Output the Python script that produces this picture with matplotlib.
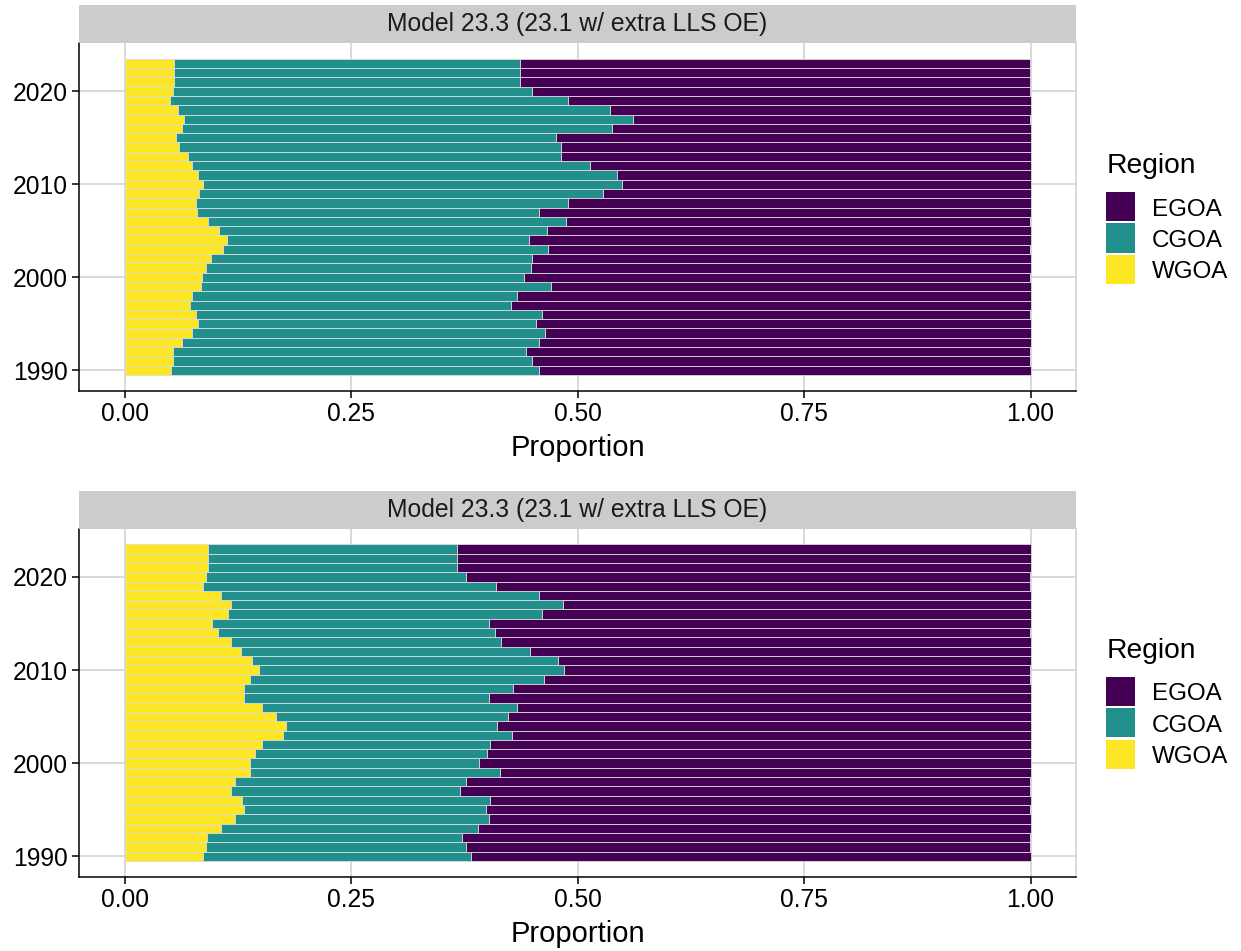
import numpy as np
import matplotlib
matplotlib.use("Agg")
import matplotlib.pyplot as plt
from matplotlib.patches import Rectangle

plt.rcParams['font.family'] = ['Liberation Sans', 'DejaVu Sans']

years = list(range(1990, 2024))
regions = ['EGOA', 'CGOA', 'WGOA']
colors = {'EGOA': '#440154', 'CGOA': '#21908C', 'WGOA': '#FDE725'}
strip_label = 'Model 23.3 (23.1 w/ extra LLS OE)'

# proportions, 1990 -> 2023 (EGOA is the remainder)
wgoa_top = [0.051, 0.053, 0.054, 0.063, 0.074, 0.081, 0.079, 0.072, 0.075, 0.084,
            0.086, 0.090, 0.095, 0.109, 0.113, 0.104, 0.092, 0.080, 0.079, 0.082,
            0.087, 0.081, 0.075, 0.070, 0.060, 0.057, 0.064, 0.066, 0.059, 0.050,
            0.053, 0.055, 0.055, 0.055]
cgoa_top = [0.406, 0.397, 0.389, 0.394, 0.390, 0.373, 0.382, 0.355, 0.358, 0.387,
            0.355, 0.359, 0.355, 0.358, 0.333, 0.362, 0.395, 0.378, 0.411, 0.446,
            0.462, 0.463, 0.439, 0.412, 0.422, 0.419, 0.474, 0.495, 0.477, 0.440,
            0.397, 0.381, 0.381, 0.381]

wgoa_bot = [0.087, 0.090, 0.091, 0.106, 0.122, 0.132, 0.130, 0.118, 0.122, 0.139,
            0.139, 0.144, 0.152, 0.175, 0.178, 0.167, 0.152, 0.132, 0.132, 0.139,
            0.149, 0.141, 0.129, 0.118, 0.103, 0.097, 0.114, 0.118, 0.106, 0.087,
            0.090, 0.092, 0.092, 0.092]
cgoa_bot = [0.296, 0.287, 0.282, 0.284, 0.280, 0.267, 0.273, 0.252, 0.255, 0.276,
            0.252, 0.256, 0.251, 0.253, 0.233, 0.256, 0.281, 0.270, 0.297, 0.324,
            0.336, 0.337, 0.319, 0.298, 0.306, 0.305, 0.347, 0.366, 0.351, 0.323,
            0.287, 0.275, 0.275, 0.275]

xticks = [0, 0.25, 0.5, 0.75, 1.0]
xticklabels = ['0.00', '0.25', '0.50', '0.75', '1.00']
yticks = [1990, 2000, 2010, 2020]

W, H = 1241, 951
fig = plt.figure(figsize=(W / 100, H / 100), dpi=100)


def fx(px):
    return px / W


def fy(py):
    return 1 - py / H


def panel(top_px, bottom_px, strip_top_px, wg, cg):
    ax = fig.add_axes([fx(79.2), fy(bottom_px), fx(1075.8) - fx(79.2),
                       fy(top_px) - fy(bottom_px)])
    wg = np.array(wg)
    cg = np.array(cg)
    eg = 1 - wg - cg
    ec = '#DCDCDC'
    ax.barh(years, wg, height=1, color=colors['WGOA'], edgecolor=ec, linewidth=0.6, zorder=2)
    ax.barh(years, cg, left=wg, height=1, color=colors['CGOA'], edgecolor=ec, linewidth=0.6, zorder=2)
    ax.barh(years, eg, left=wg + cg, height=1, color=colors['EGOA'], edgecolor=ec, linewidth=0.6, zorder=2)
    ax.set_xlim(-0.05, 1.05)
    ax.set_ylim(1987.8, 2025.2)
    ax.set_xticks(xticks)
    ax.set_xticklabels(xticklabels)
    ax.set_yticks(yticks)
    ax.grid(True, color='#D3D3D3', linewidth=1.2, zorder=0)
    ax.set_axisbelow(True)
    for s in ['left', 'bottom']:
        ax.spines[s].set_color('black')
        ax.spines[s].set_linewidth(1.1)
    ax.spines['right'].set_color('#D3D3D3')
    ax.spines['right'].set_linewidth(1.2)
    ax.spines['top'].set_visible(False)
    ax.tick_params(axis='both', colors='black', labelsize=17.7, length=5, width=1.1, pad=3)
    ax.set_xlabel('Proportion', fontsize=21, labelpad=6)

    sax = fig.add_axes([fx(79.2), fy(top_px), fx(1075.8) - fx(79.2),
                        fy(strip_top_px) - fy(top_px)])
    sax.set_facecolor('#CCCCCC')
    sax.set_xticks([])
    sax.set_yticks([])
    for s in sax.spines.values():
        s.set_visible(False)
    sax.text(0.5, 0.5, strip_label, ha='center', va='center', fontsize=17.8,
             color='#1A1A1A', transform=sax.transAxes)
    return ax


def legend(title_base_px):
    fig.text(fx(1107), fy(title_base_px), 'Region', fontsize=20.3, va='baseline', ha='left')
    top = title_base_px + 19
    for i, r in enumerate(regions):
        y0 = top + i * 31.5
        fig.add_artist(Rectangle((fx(1106), fy(y0 + 29)), fx(29), 29 / H,
                                 facecolor=colors[r], edgecolor='none',
                                 transform=fig.transFigure))
        fig.text(fx(1152), fy(y0 + 23.5), r, fontsize=17.4, va='baseline', ha='left')


panel(43, 390.7, 5, wgoa_top, cgoa_top)
legend(173)
panel(528.5, 876.7, 490.5, wgoa_bot, cgoa_bot)
legend(657.7)

fig.savefig('out.png', dpi=100)
